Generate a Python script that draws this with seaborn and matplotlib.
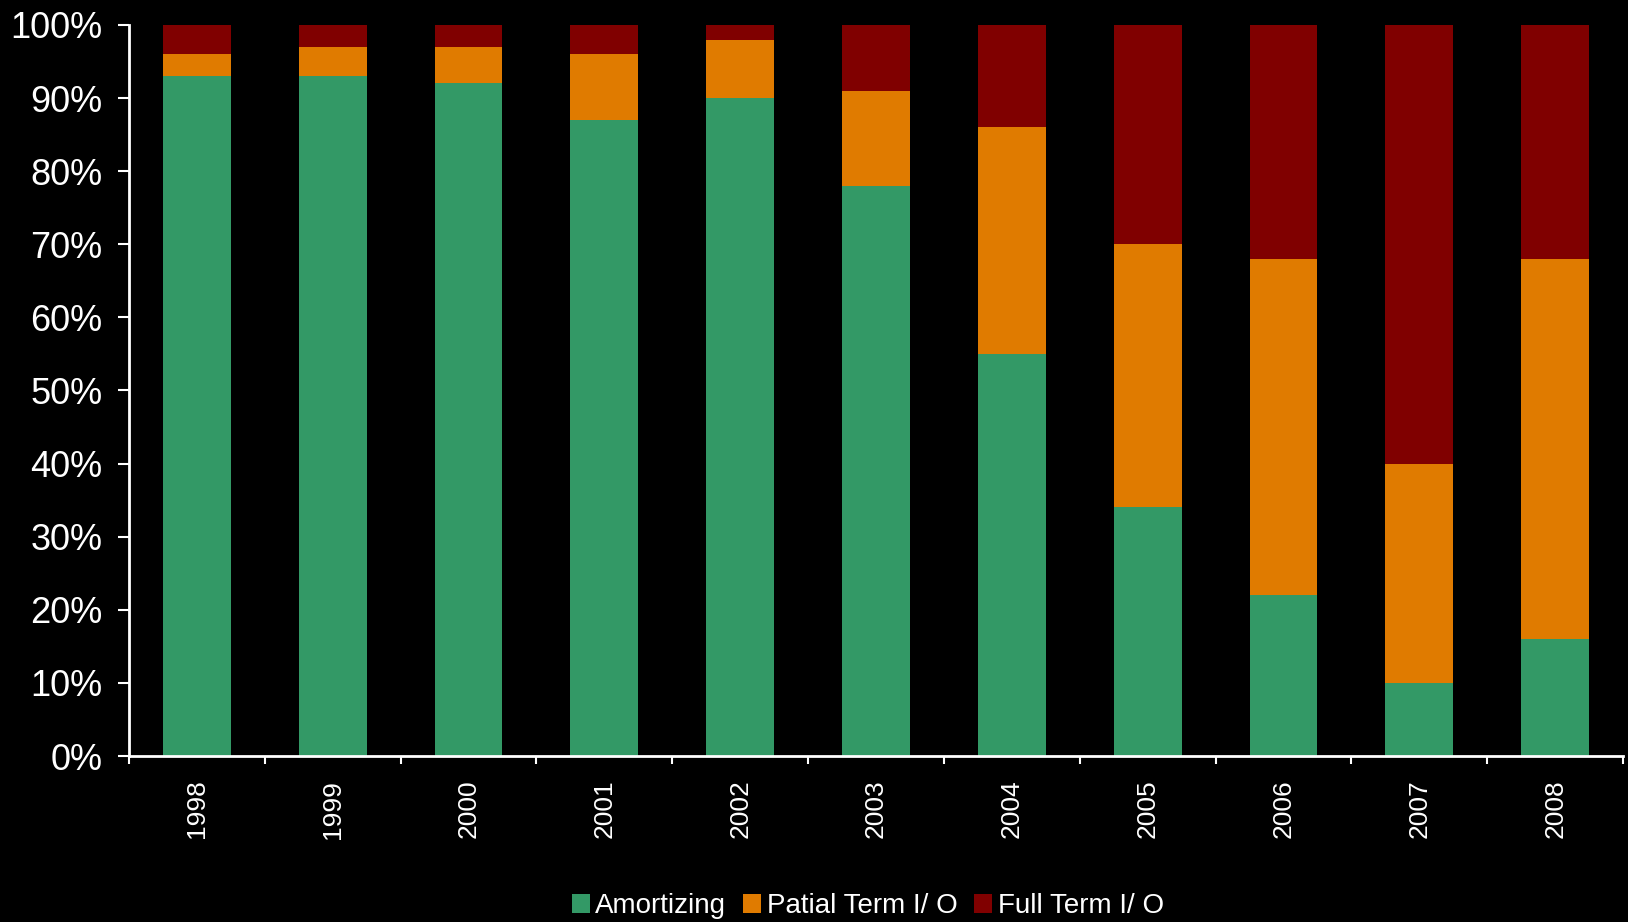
import numpy as np
import pandas as pd
import seaborn as sns
import matplotlib.pyplot as plt
from matplotlib.ticker import FixedLocator, PercentFormatter
from matplotlib.patches import Patch

years = ['1998', '1999', '2000', '2001', '2002', '2003', '2004', '2005', '2006', '2007', '2008']
amortizing = [93, 93, 92, 87, 90, 78, 55, 34, 22, 10, 16]
partial_io = [3, 4, 5, 9, 8, 13, 31, 36, 46, 30, 52]
full_io = [4, 3, 3, 4, 2, 9, 14, 30, 32, 60, 32]

series_names = ['Amortizing', 'Patial Term I/ O', 'Full Term I/ O']
colors = ['#339966', '#E07B00', '#800000']

sns.set_style('dark')
plt.rcParams['font.family'] = ['Liberation Sans', 'DejaVu Sans']

df = pd.DataFrame({'year': years, 'a': amortizing, 'p': partial_io, 'f': full_io})
df['ap'] = df['a'] + df['p']
df['apf'] = df['ap'] + df['f']

fig = plt.figure(figsize=(16.28, 9.22), dpi=100, facecolor='black')
ax = fig.add_axes([0.0792, 0.180, 0.9178, 0.793])
ax.set_facecolor('black')

# stacked bars: draw cumulative totals, top layer first
bar_kw = dict(width=0.5, saturation=1, edgecolor='none', linewidth=0, ax=ax)
sns.barplot(data=df, x='year', y='apf', color=colors[2], **bar_kw)
sns.barplot(data=df, x='year', y='ap', color=colors[1], **bar_kw)
sns.barplot(data=df, x='year', y='a', color=colors[0], **bar_kw)

ax.set_xlim(-0.5, len(years) - 0.5)
ax.set_ylim(0, 100)
ax.set_xlabel('')
ax.set_ylabel('')
ax.grid(False)

ax.yaxis.set_major_locator(FixedLocator(np.arange(0, 101, 10)))
ax.yaxis.set_major_formatter(PercentFormatter(decimals=0))
ax.tick_params(axis='y', colors='white', labelsize=26, length=8, width=1.5, pad=11, direction='out', left=True)

ax.set_xticks(range(len(years)))
ax.set_xticklabels(years, rotation=90, fontsize=19, color='white')
ax.set_xticks(np.arange(-0.5, len(years), 1.0), minor=True)
ax.tick_params(axis='x', which='major', length=0, pad=17, colors='white')
ax.tick_params(axis='x', which='minor', length=6, width=1.5, color='white', direction='out', bottom=True)

for side in ['top', 'right']:
    ax.spines[side].set_visible(False)
for side in ['left', 'bottom']:
    ax.spines[side].set_visible(True)
    ax.spines[side].set_color('white')
    ax.spines[side].set_linewidth(2)

handles = [Patch(facecolor=c, edgecolor='none', label=n) for c, n in zip(colors, series_names)]
fig.legend(handles=handles, loc='center', bbox_to_anchor=(0.533, 0.017), ncol=3, frameon=False,
           prop={'size': 20}, labelcolor='white',
           handlelength=0.65, handleheight=0.65, handletextpad=0.2, columnspacing=0.6)

fig.savefig('out.png', dpi=100, facecolor='black')
